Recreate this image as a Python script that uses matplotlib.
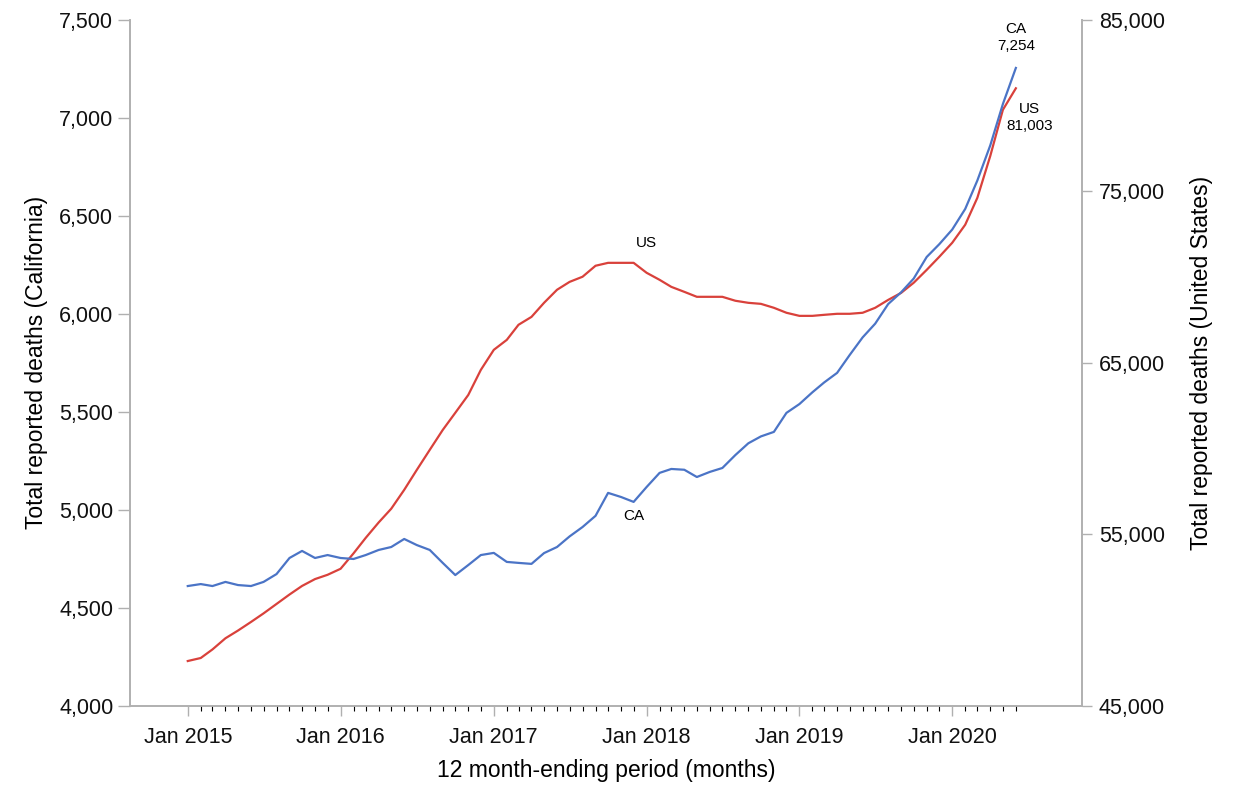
import numpy as np
import pandas as pd
import matplotlib
matplotlib.use('Agg')
import matplotlib.pyplot as plt
import matplotlib.dates as mdates
from matplotlib.ticker import FuncFormatter

plt.rcParams['font.family'] = ['Liberation Sans', 'DejaVu Sans']

# 12 month-ending periods, Jan 2015 .. Jun 2020
months = pd.date_range('2015-01-01', '2020-06-01', freq='MS')

# Total reported deaths, California (left axis)
ca_deaths = [
    4612, 4622, 4612, 4633, 4617, 4612, 4633, 4673, 4755, 4791, 4755, 4770,
    4755, 4750, 4770, 4796, 4811, 4852, 4821, 4796, 4730, 4668, 4719, 4770,
    4781, 4735, 4730, 4725, 4780, 4811, 4865, 4913, 4970, 5087, 5066, 5041,
    5117, 5189, 5209, 5205, 5168, 5194, 5214, 5280, 5340, 5375, 5398, 5495,
    5540, 5600, 5650, 5699, 5790, 5880, 5950, 6050, 6110, 6180, 6290, 6355,
    6430, 6535, 6680, 6860, 7070, 7254,
]

# Total reported deaths, United States (right axis)
us_deaths = [
    47624, 47800, 48300, 48950, 49400, 49900, 50400, 50950, 51500, 52000, 52400, 52650,
    53000, 53900, 54800, 55700, 56500, 57600, 58760, 59930, 61090, 62090, 63130, 64590,
    65760, 66340, 67220, 67680, 68500, 69260, 69720, 70020, 70660, 70830, 70830, 70830,
    70250, 69840, 69430, 69140, 68850, 68850, 68850, 68620, 68500, 68440, 68210, 67920,
    67740, 67740, 67800, 67860, 67860, 67920, 68210, 68670, 69080, 69670, 70420, 71180,
    72000, 73050, 74620, 77070, 79750, 81003,
]

ca_ticks = np.arange(4000, 7501, 500)
us_ticks = np.arange(45000, 85001, 10000)

blue = '#4b74c6'
red = '#d9413b'
spine_col = '#b0b0b0'

fig = plt.figure(figsize=(12.38, 7.88), dpi=100)
ax = fig.add_axes([0.105, 0.104, 0.769, 0.871])
ax2 = ax.twinx()

ax.plot(months, ca_deaths, color=blue, lw=1.6, zorder=3)
ax2.plot(months, us_deaths, color=red, lw=1.6)

ax.set_zorder(ax2.get_zorder() + 1)
ax.patch.set_visible(False)

ax.set_xlim(pd.Timestamp('2014-08-16'), pd.Timestamp('2020-11-06'))
ax.set_ylim(4000, 7500)
ax2.set_ylim(45000, 85000)
ax.set_yticks(ca_ticks)
ax2.set_yticks(us_ticks)

comma = FuncFormatter(lambda v, p: '{:,.0f}'.format(v))
ax.yaxis.set_major_formatter(comma)
ax2.yaxis.set_major_formatter(comma)

ax.xaxis.set_major_locator(mdates.YearLocator(month=1))
ax.xaxis.set_major_formatter(mdates.DateFormatter('%b %Y'))
ax.set_xticks(months, minor=True)

for a in (ax, ax2):
    for s in a.spines.values():
        s.set_color(spine_col)
        s.set_linewidth(1.2)
    a.spines['top'].set_visible(False)
    a.tick_params(axis='both', colors=spine_col, labelcolor='#111111', labelsize=15.5)
ax.tick_params(axis='y', length=9, width=1.0, pad=3)
ax2.tick_params(axis='y', length=7, width=1.0, pad=5)
ax.tick_params(axis='x', which='major', length=7, width=1.0, pad=8)
ax.tick_params(axis='x', which='minor', length=3.5, width=0.8)

ax.set_ylabel('Total reported deaths (California)', fontsize=16.5, labelpad=8)
ax2.set_ylabel('Total reported deaths (United States)', fontsize=16.5, rotation=90, labelpad=18)
ax.set_xlabel('12 month-ending period (months)', fontsize=16.5, labelpad=8)

# line labels
ax.text(months[-1], ca_deaths[-1] + 75, 'CA\n7,254', ha='center', va='bottom',
        fontsize=11, linespacing=1.25)
ax2.text(months[-1] + pd.Timedelta(days=32), us_deaths[-1] - 800, 'US\n81,003', ha='center',
         va='top', fontsize=11, linespacing=1.25)
ax2.text(months[36], us_deaths[36] + 1300, 'US', ha='center', va='bottom', fontsize=11)
ax.text(months[35], ca_deaths[35] - 35, 'CA', ha='center', va='top', fontsize=11)

fig.savefig('out.png', dpi=100)
